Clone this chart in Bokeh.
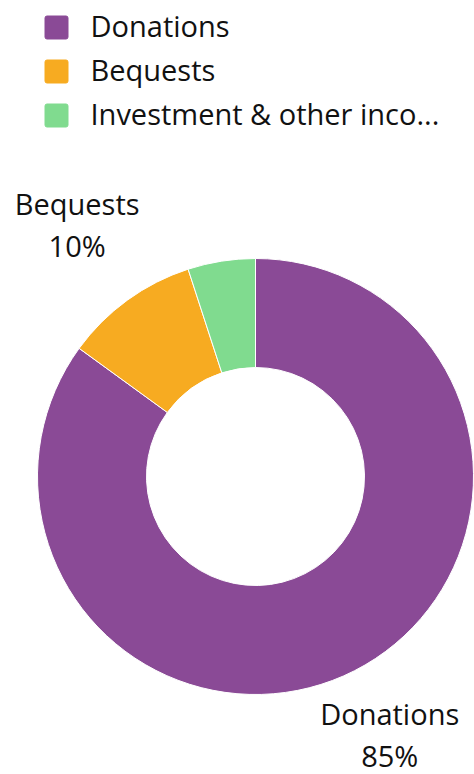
import math
from bokeh.plotting import figure
from bokeh.models import Range1d, ColumnDataSource
from bokeh.core.properties import value
from bokeh.embed import file_html
from bokeh.resources import INLINE

categories = ["Donations", "Bequests", "Investment & other inco..."]
shares = [85, 10, 5]
colors = ["#8A4A96", "#F7AB21", "#80DB8F"]
label_min_share = 10

W, H = 474, 774
FONT = "Open Sans"
FS = "29px"

p = figure(width=W, height=H, output_backend="svg", toolbar_location=None,
           x_range=Range1d(0, W), y_range=Range1d(0, H), min_border=0)
p.axis.visible = False
p.grid.visible = False
p.outline_line_color = None
p.background_fill_color = "white"

cx, cy = 255, H - 476
r_out, r_in = 218, 109

# wedges: start at top, clockwise
total = sum(shares)
starts, ends, mids = [], [], []
acc = 0.0
for s in shares:
    a0 = math.pi / 2 - 2 * math.pi * acc / total
    acc += s
    a1 = math.pi / 2 - 2 * math.pi * acc / total
    starts.append(a0)
    ends.append(a1)
    mids.append((a0 + a1) / 2)

src = ColumnDataSource(dict(x=[cx] * len(shares), y=[cy] * len(shares),
                            start=starts, end=ends, color=colors))
p.annular_wedge(x="x", y="y", inner_radius=r_in, outer_radius=r_out,
                start_angle="start", end_angle="end", direction="clock",
                fill_color="color", line_color="white", line_width=1, source=src)

# outside labels
r_lab = 300
lx, ly_name, ly_pct, names, pcts = [], [], [], [], []
for cat, s, m in zip(categories, shares, mids):
    if s < label_min_share:
        continue
    x = cx + r_lab * math.cos(m) - 2
    y = cy + r_lab * math.sin(m) + 9
    lx.append(x)
    ly_name.append(y + 21)
    ly_pct.append(y - 21)
    names.append(cat)
    pcts.append(f"{s}%")
p.text(x=lx, y=ly_name, text=names, text_align="center", text_baseline="middle",
       text_font=value(FONT), text_font_size=FS, text_color="#111111")
p.text(x=lx, y=ly_pct, text=pcts, text_align="center", text_baseline="middle",
       text_font=value(FONT), text_font_size=FS, text_color="#111111")

# legend
ly = [H - 27 - 44 * i for i in range(len(categories))]
p.rect(x=[56] * len(categories), y=ly, width=23, height=23,
       width_units="screen", height_units="screen",
       fill_color=colors, line_color=colors, line_width=1, border_radius=2)
p.text(x=[90] * len(categories), y=[v + 2 for v in ly], text=categories,
       text_align="left", text_baseline="middle",
       text_font=value(FONT), text_font_size=FS, text_color="#111111")

open("out.html", "w").write(file_html(p, INLINE))
